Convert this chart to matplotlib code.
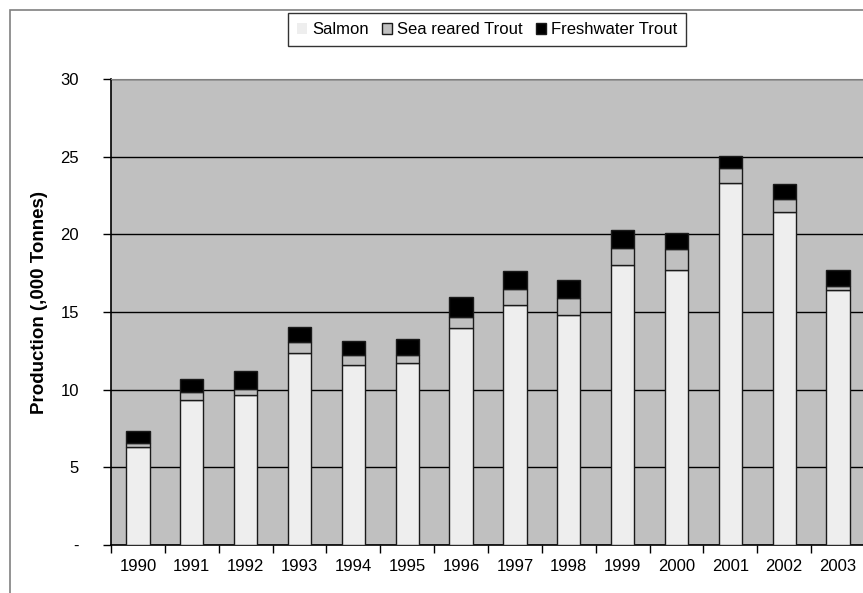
import matplotlib
matplotlib.use("Agg")
import matplotlib.pyplot as plt
from matplotlib.patches import Rectangle
from matplotlib.ticker import FixedLocator, FuncFormatter

plt.rcParams['font.family'] = ['Liberation Sans', 'DejaVu Sans']

# Annual production, thousand tonnes
years = ['1990', '1991', '1992', '1993', '1994', '1995', '1996',
         '1997', '1998', '1999', '2000', '2001', '2002', '2003']
salmon = [6.34, 9.31, 9.66, 12.34, 11.59, 11.74, 13.98,
          15.48, 14.82, 18.02, 17.68, 23.31, 21.46, 16.39]
sea_trout = [0.22, 0.52, 0.40, 0.71, 0.62, 0.52, 0.73,
             0.99, 1.09, 1.10, 1.35, 0.99, 0.80, 0.26]
fresh_trout = [0.81, 0.88, 1.12, 0.97, 0.91, 1.01, 1.27,
               1.14, 1.17, 1.18, 1.08, 0.75, 0.99, 1.05]

fig = plt.figure(figsize=(8.63, 5.93), dpi=100)

# chart border
fig.patches.append(Rectangle((10 / 863, -0.1), 1.2, (583 / 593) + 0.1,
                             transform=fig.transFigure, fill=False,
                             edgecolor='#808080', linewidth=1.2))

ax = fig.add_axes([111 / 863, 48 / 593, 754 / 863, 466 / 593])
ax.set_facecolor('#C0C0C0')

x = list(range(len(years)))
base2 = [s + t for s, t in zip(salmon, sea_trout)]
kw = dict(width=0.43, edgecolor='#1a1a1a', linewidth=1.0, zorder=3)
ax.bar(x, salmon, color='#EEEEEE', label='Salmon', **kw)
ax.bar(x, sea_trout, bottom=salmon, color='#C0C0C0', label='Sea reared Trout', **kw)
ax.bar(x, fresh_trout, bottom=base2, color='black', label='Freshwater Trout', **kw)

ax.set_xlim(-0.5, len(years) - 0.5)
ax.set_ylim(0, 30)
ax.yaxis.set_major_locator(FixedLocator([0, 5, 10, 15, 20, 25, 30]))
ax.yaxis.set_major_formatter(FuncFormatter(lambda v, p: '-' if v == 0 else f'{v:.0f}'))
ax.yaxis.grid(True, color='black', linewidth=1.0, zorder=1)
ax.set_axisbelow(True)

ax.set_xticks(x)
ax.set_xticklabels(years)
ax.set_xticks([i - 0.5 for i in range(len(years) + 1)], minor=True)
ax.tick_params(axis='x', which='major', length=0, pad=10, labelsize=12)
ax.tick_params(axis='x', which='minor', length=6, width=1, direction='out')
ax.tick_params(axis='y', length=6, width=1, direction='out', pad=17, labelsize=12)

ax.spines['top'].set_color('#808080')
ax.spines['right'].set_visible(False)
for s in ('left', 'bottom'):
    ax.spines[s].set_linewidth(1.2)

ax.set_ylabel('Production (,000 Tonnes)', fontsize=13.5, fontweight='bold')
ax.yaxis.set_label_coords(-63 / 754, 0.52)

leg = fig.legend(loc='upper center', bbox_to_anchor=(487 / 863, 580 / 593), ncol=3,
                 fontsize=12, frameon=True, fancybox=False, edgecolor='black',
                 handlelength=0.6, handleheight=0.6, handletextpad=0.3,
                 columnspacing=0.8, borderpad=0.55, borderaxespad=0)
leg.get_frame().set_linewidth(1.0)
leg.legend_handles[0].set_edgecolor('none')

fig.savefig('out.png', dpi=100)
